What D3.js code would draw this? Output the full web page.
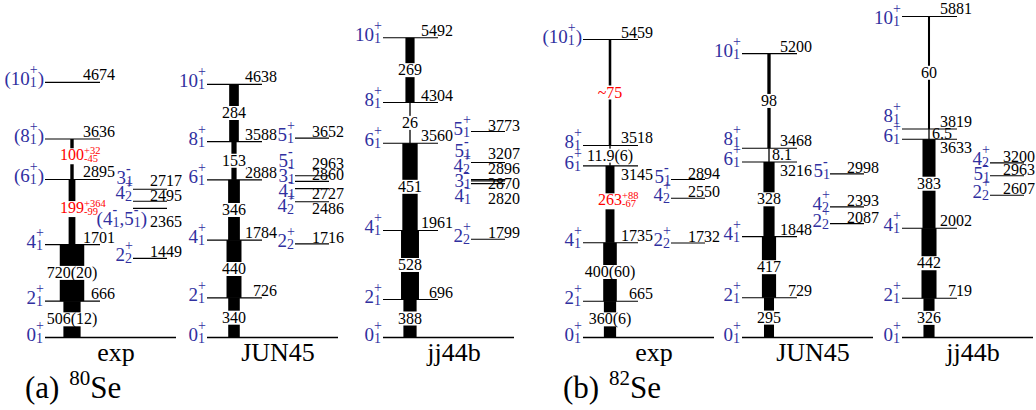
<!DOCTYPE html>
<html>
<head>
<meta charset="utf-8">
<script src="https://cdn.jsdelivr.net/npm/d3@7"></script>
<style>
    body { margin: 0; background: #fff; }
    svg text { font-family: "Liberation Serif", "Times New Roman", serif; }
</style>
</head>
<body>
<div id="chart"></div>
<script>

// ---- 80Se ----
const se80ExpE = [0, 666, 1701, 2895, 3636, 4674];
const se80ExpJ = ["0^+_1", "2^+_1", "4^+_1", "(6^+_1)", "(8^+_1)", "(10^+_1)"];
const se80ExpB = [506, 720, 199, 100];
const se80ExpBLab = ["506(12)", "720(20)", "199", "100"];
const se80ExpBErr = [null, null, ["+364", "-99"], ["+32", "-45"]];
const se80ExpSideE = [2717, 2495, 2365, 1449];
const se80ExpSideJ = ["3^-_1", "4^+_2", "(4^-_1,5^-_1)", "2^+_2"];

const se80JunE = [0, 726, 1784, 2888, 3588, 4638];
const se80JunJ = ["0^+_1", "2^+_1", "4^+_1", "6^+_1", "8^+_1", "10^+_1"];
const se80JunB = [340, 440, 346, 153, 284];
const se80JunSideE = [3652, 2963, 2860, 2727, 2486, 1716];
const se80JunSideJ = ["5^+_1", "5^-_1", "3^-_1", "4^-_1", "4^+_2", "2^+_2"];

const se80JjE = [0, 696, 1961, 3560, 4304, 5492];
const se80JjJ = ["0^+_1", "2^+_1", "4^+_1", "6^+_1", "8^+_1", "10^+_1"];
const se80JjB = [388, 528, 451, 26, 269];
const se80JjSideE = [3773, 3207, 2896, 2870, 2820, 1799];
const se80JjSideJ = ["5^+_1", "5^-_1", "4^+_2", "3^-_1", "4^-_1", "2^+_2"];

// ---- 82Se ----
const se82ExpE = [0, 665, 1735, 3145, 3518, 5459];
const se82ExpJ = ["0^+_1", "2^+_1", "4^+_1", "6^+_1", "8^+_1", "(10^+_1)"];
const se82ExpB = [360, 400, 263, 11.9, 75];
const se82ExpBLab = ["360(6)", "400(60)", "263", "11.9(6)", "~75"];
const se82ExpBErr = [null, null, ["+88", "-67"], null, null];
const se82ExpSideE = [2894, 2550, 1732];
const se82ExpSideJ = ["5^-_1", "4^+_2", "2^+_2"];

const se82JunE = [0, 729, 1848, 3216, 3468, 5200];
const se82JunJ = ["0^+_1", "2^+_1", "4^+_1", "6^+_1", "8^+_1", "10^+_1"];
const se82JunB = [295, 417, 328, 8.1, 98];
const se82JunSideE = [2998, 2393, 2087];
const se82JunSideJ = ["5^-_1", "4^+_2", "2^+_2"];

const se82JjE = [0, 719, 2002, 3633, 3819, 5881];
const se82JjJ = ["0^+_1", "2^+_1", "4^+_1", "6^+_1", "8^+_1", "10^+_1"];
const se82JjB = [326, 442, 383, 6.5, 60];
const se82JjSideE = [3200, 2963, 2607];
const se82JjSideJ = ["4^+_2", "5^-_1", "2^+_2"];

const panelTitles = [["(a) ", "80", "Se"], ["(b) ", "82", "Se"]];

// ---- drawing ----
const width = 1036, height = 410;
const blue = "#30309f";

const svg = d3.select("#chart").append("svg")
    .attr("width", width)
    .attr("height", height);

let y = d3.scaleLinear().domain([0, 6000]).range([337.5, 10]);
let bw = d3.scaleLinear().domain([0, 1000]).range([0, 34]);

let columns = [
    {x0: 45,  name: "exp",   E: se80ExpE, J: se80ExpJ, B: se80ExpB, lab: se80ExpBLab, err: se80ExpBErr, sE: se80ExpSideE, sJ: se80ExpSideJ},
    {x0: 207, name: "JUN45", E: se80JunE, J: se80JunJ, B: se80JunB, sE: se80JunSideE, sJ: se80JunSideJ},
    {x0: 383, name: "jj44b", E: se80JjE,  J: se80JjJ,  B: se80JjB,  sE: se80JjSideE,  sJ: se80JjSideJ},
    {x0: 583, name: "exp",   E: se82ExpE, J: se82ExpJ, B: se82ExpB, lab: se82ExpBLab, err: se82ExpBErr, sE: se82ExpSideE, sJ: se82ExpSideJ},
    {x0: 742, name: "JUN45", E: se82JunE, J: se82JunJ, B: se82JunB, sE: se82JunSideE, sJ: se82JunSideJ},
    {x0: 902, name: "jj44b", E: se82JjE,  J: se82JjJ,  B: se82JjB,  sE: se82JjSideE,  sJ: se82JjSideJ}
];

// spin label like "(10^+_1)": stacked sup/sub, right aligned at x, centred on yc
function spinLabel(g, x, yc, s, wideShift) {
    let parts = s.split(/\^([+-])_(\d)/);
    let grp = g.append("g").attr("fill", blue);
    let cx = 0;
    for (let i = 0; i < parts.length; i += 3) {
        if (parts[i]) {
            let t = grp.append("text").attr("x", cx).attr("y", 3)
                .attr("font-size", 19).text(parts[i]);
            cx += t.node().getComputedTextLength();
        }
        if (i + 1 < parts.length) {
            let sp = grp.append("text").attr("x", cx).attr("y", -8)
                .attr("font-size", 14)
                .attr("font-weight", parts[i + 1] === "-" ? "bold" : null)
                .text(parts[i + 1]);
            let sb = grp.append("text").attr("x", cx).attr("y", 5)
                .attr("font-size", 14).text(parts[i + 2]);
            cx += Math.max(sp.node().getComputedTextLength(), sb.node().getComputedTextLength());
        }
    }
    // long labels hang over the start of their level line
    let xr = (wideShift && cx > 28) ? x + 14 : x;
    grp.attr("transform", "translate(" + (xr - cx) + "," + yc + ")");
}

// spread label centres so they keep a minimum gap (taller labels need more room)
function spread(pos, labels) {
    let p = pos.slice();
    for (let k = 0; k < 400; k++) {
        for (let i = 0; i < p.length - 1; i++) {
            let gap = (labels[i].includes("(") || labels[i + 1].includes("(")) ? 26 : 15;
            let d = p[i + 1] - p[i];
            if (d < gap) {
                p[i] -= (gap - d) / 2;
                p[i + 1] += (gap - d) / 2;
            }
        }
    }
    return p;
}

let gLines = svg.append("g").attr("class", "levels");
let gBars = svg.append("g").attr("class", "bars");
let gText = svg.append("g").attr("class", "labels");

columns.forEach(function(c) {
    let x0 = c.x0;
    let bx = x0 + 27;

    // ground state baseline
    gLines.append("line")
        .attr("x1", x0).attr("x2", x0 + 131)
        .attr("y1", y(0)).attr("y2", y(0))
        .attr("stroke", "#000").attr("stroke-width", 1.6);

    // yrast levels
    gLines.selectAll(null)
        .data(c.E.slice(1))
        .enter().append("line")
        .attr("x1", x0).attr("x2", x0 + 55)
        .attr("y1", d => y(d)).attr("y2", d => y(d))
        .attr("stroke", "#000").attr("stroke-width", 1.1);

    // spin labels on yrast levels, pushed up when too close
    let sy = c.E.map(e => y(e));
    for (let i = 1; i < sy.length; i++) {
        if (sy[i] > sy[i - 1] - 20) sy[i] = sy[i - 1] - 20;
    }
    sy = sy.map(v => Math.max(v, 21));
    c.J.forEach((j, i) => spinLabel(gText, x0 - 1, sy[i], j, false));

    // energy labels on yrast levels
    c.E.forEach(function(e, i) {
        if (i === 0) return;
        let ly = y(e);
        let above = c.E[i + 1] !== undefined ? y(c.E[i + 1]) : -100;
        let base = (ly - above < 22) ? ly + 14 : ly - 2;
        gText.append("text")
            .attr("x", x0 + 70).attr("y", base)
            .attr("text-anchor", "end")
            .attr("font-size", 16)
            .text(e);
    });

    // transitions (bars proportional to B(E2))
    c.B.forEach(function(b, i) {
        let y1 = y(c.E[i + 1]), y2 = y(c.E[i]);
        let w = Math.max(1.3, bw(b));
        gBars.append("rect")
            .attr("x", bx - w / 2).attr("width", w)
            .attr("y", y1).attr("height", y2 - y1)
            .attr("fill", "#000");

        let lab = c.lab ? c.lab[i] : String(b);
        let err = c.err ? c.err[i] : null;
        let red = err !== null || lab.startsWith("~");
        let mid = (y1 + y2) / 2 - (err ? 4 : 0);
        let g = gText.append("g");

        if (y2 - y1 < 18) {
            g.append("text")
                .attr("x", bx + 3).attr("y", mid + 5)
                .attr("font-size", 16)
                .text(lab);
            return;
        }
        let bg = g.append("rect").attr("fill", "#fff");
        let t = g.append("text")
            .attr("x", bx).attr("y", mid + 5)
            .attr("text-anchor", "middle")
            .attr("font-size", 16)
            .attr("fill", red ? "#f00" : "#000")
            .text(lab);
        let tw = t.node().getComputedTextLength();
        let right = bx + tw / 2;
        if (err) {
            let s1 = g.append("text").attr("x", right).attr("y", mid - 1)
                .attr("font-size", 10.5).attr("fill", "#f00").text(err[0]);
            let s2 = g.append("text").attr("x", right).attr("y", mid + 7)
                .attr("font-size", 10.5).attr("fill", "#f00").text(err[1]);
            right += Math.max(s1.node().getComputedTextLength(), s2.node().getComputedTextLength());
        }
        bg.attr("x", bx - tw / 2 - 2).attr("width", right - (bx - tw / 2) + 4)
            .attr("y", mid - 7).attr("height", err ? 16 : 14);
    });

    // non-yrast levels on the right
    let ly = c.sE.map(e => y(e));
    gLines.selectAll(null)
        .data(c.sE)
        .enter().append("line")
        .attr("x1", x0 + 88).attr("x2", x0 + 122)
        .attr("y1", d => y(d)).attr("y2", d => y(d))
        .attr("stroke", "#000").attr("stroke-width", 1.1);

    let py = spread(ly, c.sJ);
    c.sJ.forEach((j, i) => spinLabel(gText, x0 + 88, py[i], j, true));
    c.sE.forEach(function(e, i) {
        let cy = Math.abs(py[i] - ly[i]) > 2 ? py[i] : ly[i] - 6;
        gText.append("text")
            .attr("x", Math.min(x0 + 137, width - 1)).attr("y", cy + 5)
            .attr("text-anchor", "end")
            .attr("font-size", 16)
            .text(e);
    });

    // column name
    gText.append("text")
        .attr("x", x0 + 71).attr("y", 361)
        .attr("text-anchor", "middle")
        .attr("font-size", 26)
        .text(c.name);
});

// panel titles
[25, 563].forEach(function(x, i) {
    let t = svg.append("text")
        .attr("x", x).attr("y", 398)
        .attr("font-size", 31);
    t.append("tspan").text(panelTitles[i][0]);
    t.append("tspan").attr("font-size", 21).attr("dy", -13).attr("dx", 2).text(panelTitles[i][1]);
    t.append("tspan").attr("dy", 13).text(panelTitles[i][2]);
});

</script>
</body>
</html>
